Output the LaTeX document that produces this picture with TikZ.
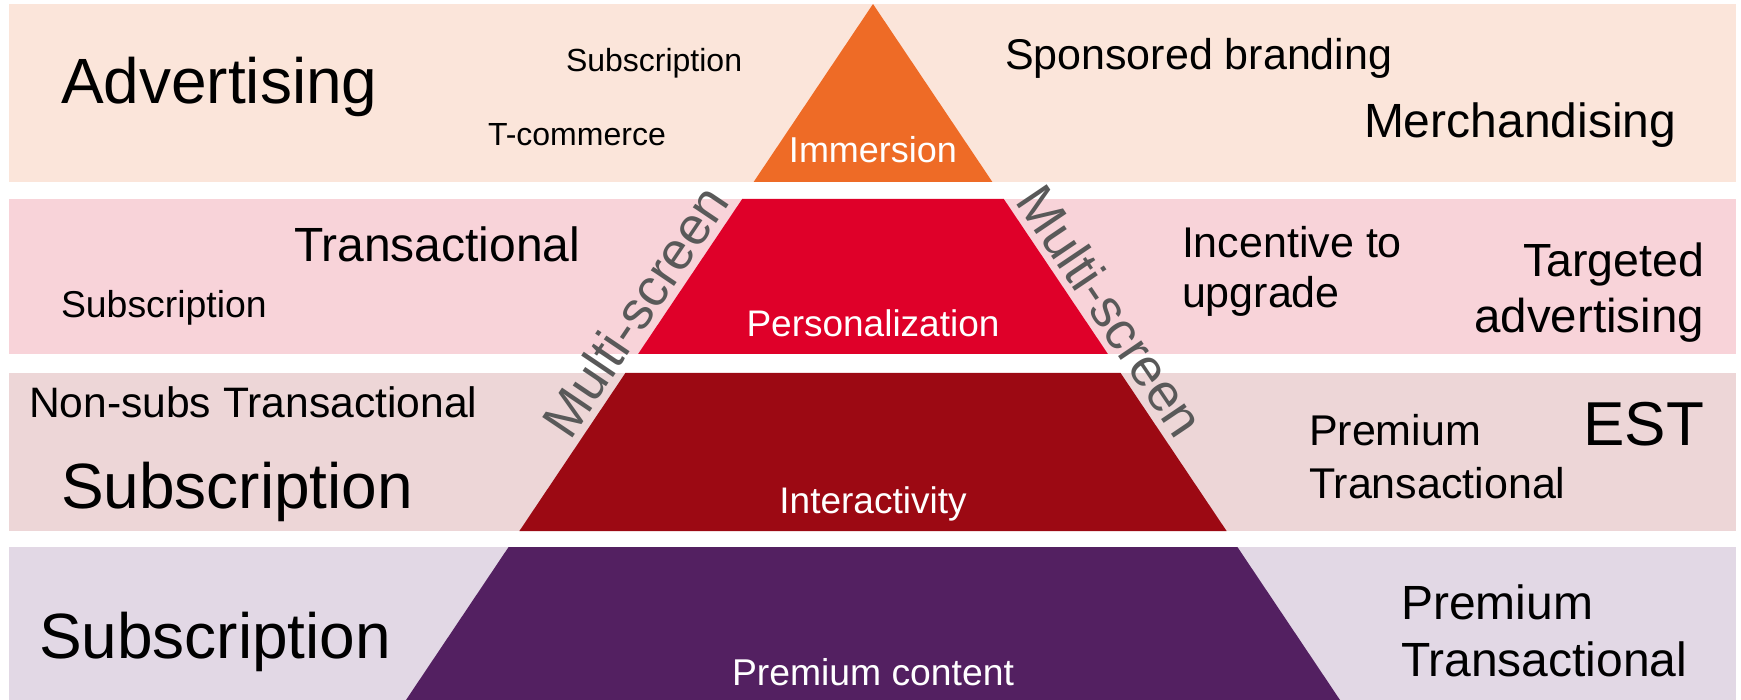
\documentclass[tikz,border=0pt]{standalone}
\usepackage{fontspec}
\setmainfont{Liberation Sans}
\definecolor{bandA}{HTML}{FBE5DA}
\definecolor{bandB}{HTML}{F8D3D9}
\definecolor{bandC}{HTML}{EDD6D7}
\definecolor{bandD}{HTML}{E2D8E5}
\definecolor{pyrA}{HTML}{EE6B26}
\definecolor{pyrB}{HTML}{DF0029}
\definecolor{pyrC}{HTML}{9C0913}
\definecolor{pyrD}{HTML}{532061}
\definecolor{msgray}{HTML}{595959}
\newcommand{\fsz}[1]{\fontsize{#1}{#1}\selectfont}
\tikzset{
  lbl/.style={inner sep=0pt, outer sep=0pt, text=black},
  lblw/.style={inner sep=0pt, outer sep=0pt, text=white},
  mscreen/.style={inner sep=0pt, outer sep=0pt, text=msgray},
}
\begin{document}
\begin{tikzpicture}[x=1pt,y=1pt]
\useasboundingbox (0,0) rectangle (1741,-700);
% bands
\fill[bandA] (9,-4) rectangle (1736,-182);
\fill[bandB] (9,-199) rectangle (1736,-354);
\fill[bandC] (9,-373) rectangle (1736,-531);
\fill[bandD] (9,-547) rectangle (1736,-700);
% pyramid
\fill[pyrA] (873,-4) -- (992.4,-182) -- (753.6,-182) -- cycle;
\fill[pyrB] (742.2,-199) -- (1003.8,-199) -- (1107.9,-354) -- (638.1,-354) -- cycle;
\fill[pyrC] (625.4,-373) -- (1120.6,-373) -- (1226.6,-531) -- (519.4,-531) -- cycle;
\fill[pyrD] (508.6,-547) -- (1237.4,-547) -- (1340,-700) -- (406,-700) -- cycle;
% pyramid labels
\node[lblw, anchor=base] (imm) at (873,-163) {\fsz{36}Immersion};
\node[lblw, anchor=base] (pers) at (873,-337) {\fsz{37}Personalization};
\node[lblw, anchor=base] (inter) at (873,-513) {\fsz{37}Interactivity};
\node[lblw, anchor=base] (prem) at (873,-685) {\fsz{37.3}Premium content};
% band 1
\node[lbl, anchor=base west] (adv) at (61,-104) {\fsz{64}Advertising};
\node[lbl, anchor=base west] (subA) at (566,-72) {\fsz{32}Subscription};
\node[lbl, anchor=base west] (tcom) at (488,-146) {\fsz{32}T-commerce};
\node[lbl, anchor=base west] (spon) at (1005,-70) {\fsz{43}Sponsored branding};
\node[lbl, anchor=base west] (merch) at (1364,-138) {\fsz{48}Merchandising};
% band 2
\node[lbl, anchor=base west] (trB) at (294,-262) {\fsz{48}Transactional};
\node[lbl, anchor=base west] (subB) at (61,-318) {\fsz{37.4}Subscription};
\node[lbl, anchor=base west] (inc) at (1182,-258) {\fsz{43}Incentive to};
\node[lbl, anchor=base west] (upg) at (1182,-308) {\fsz{43}upgrade};
\node[lbl, anchor=base east] (targ) at (1704,-277) {\fsz{46.5}Targeted};
\node[lbl, anchor=base east] (advt) at (1704,-333) {\fsz{47.5}advertising};
% band 3
\node[lbl, anchor=base west] (nons) at (29,-418) {\fsz{42.6}Non-subs Transactional};
\node[lbl, anchor=base west] (subC) at (61,-508) {\fsz{64}Subscription};
\node[lbl, anchor=base west] (premC) at (1309,-446) {\fsz{43}Premium};
\node[lbl, anchor=base west] (trC) at (1309,-498) {\fsz{43}Transactional};
\node[lbl, anchor=base east] (est) at (1704,-446) {\fsz{62}EST};
% band 4
\node[lbl, anchor=base west] (subD) at (39,-658) {\fsz{64}Subscription};
\node[lbl, anchor=base west] (premD) at (1401,-619) {\fsz{48}Premium};
\node[lbl, anchor=base west] (trD) at (1401,-676) {\fsz{48}Transactional};
% multi-screen
\node[mscreen, rotate=56] (msL) at (635,-311) {\fsz{53}Multi-screen};
\node[mscreen, rotate=-56] (msR) at (1111,-311) {\fsz{53}Multi-screen};
\end{tikzpicture}
\end{document}
